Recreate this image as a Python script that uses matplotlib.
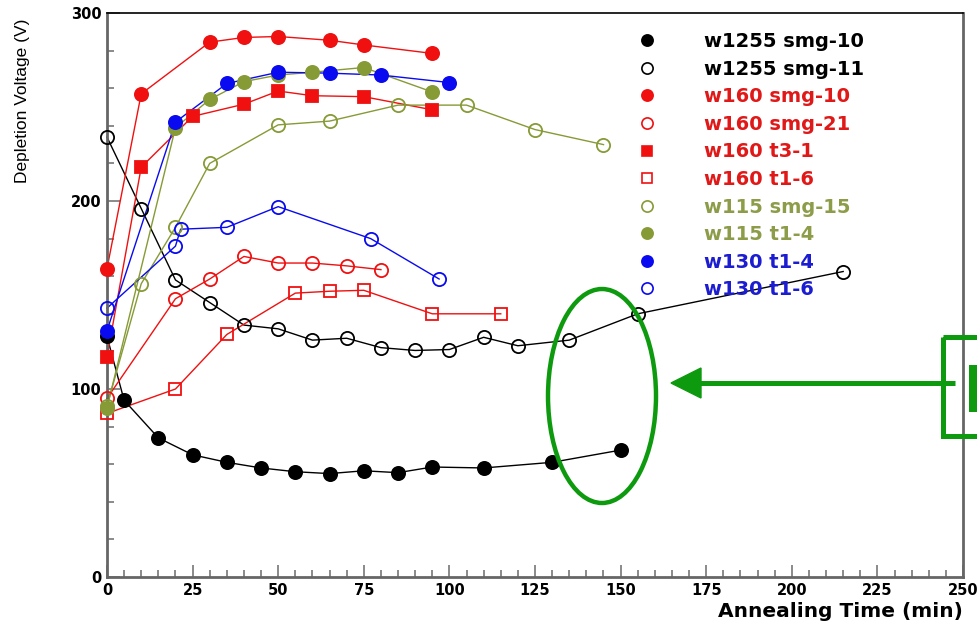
import matplotlib
matplotlib.use("Agg")
import matplotlib.pyplot as plt
from matplotlib.patches import Ellipse, Rectangle, Polygon
from matplotlib.ticker import MultipleLocator

# annealing time (min) and depletion voltage (V) for each sample
t_w1255_smg10 = [0, 5, 15, 25, 35, 45, 55, 65, 75, 85, 95, 110, 130, 150]
v_w1255_smg10 = [128, 94, 74, 65, 61, 58, 56, 55, 56.5, 55.5, 58.5, 58, 61, 67.5]

t_w1255_smg11 = [0, 10, 20, 30, 40, 50, 60, 70, 80, 90, 100, 110, 120, 135, 155, 215]
v_w1255_smg11 = [234, 196, 158, 146, 134, 132, 126, 127, 122, 120.5, 121, 127.5, 123, 126, 140, 162.5]

t_w160_smg10 = [0, 10, 30, 40, 50, 65, 75, 95]
v_w160_smg10 = [164, 257, 284.5, 287, 287.5, 285.5, 283, 278.5]

t_w160_smg21 = [0, 20, 30, 40, 50, 60, 70, 80]
v_w160_smg21 = [95, 148, 158.5, 170.5, 167, 167, 165.5, 163.5]

t_w160_t31 = [0, 10, 25, 40, 50, 60, 75, 95]
v_w160_t31 = [117, 218, 245, 251.5, 258.5, 256, 255.5, 248.5]

t_w160_t16 = [0, 20, 35, 55, 65, 75, 95, 115]
v_w160_t16 = [87, 100, 129, 151, 152, 152.5, 140, 140]

t_w115_smg15 = [0, 10, 20, 30, 50, 65, 85, 105, 125, 145]
v_w115_smg15 = [91, 156, 186, 220, 240.5, 242.5, 251, 251, 238, 230]

t_w115_t14 = [0, 20, 30, 40, 50, 60, 75, 95]
v_w115_t14 = [90, 239, 254, 263.5, 267, 268.5, 271, 258]

t_w130_t14 = [0, 20, 35, 50, 65, 80, 100]
v_w130_t14 = [131, 242, 262.5, 268.5, 268, 267, 263]

t_w130_t16 = [0, 20, 21.5, 35, 50, 77, 97]
v_w130_t16 = [143, 176, 185, 186, 197, 180, 158.5]

labels = ["w1255 smg-10", "w1255 smg-11", "w160 smg-10", "w160 smg-21", "w160 t3-1",
          "w160 t1-6", "w115 smg-15", "w115 t1-4", "w130 t1-4", "w130 t1-6"]

red = "#f01010"
blue = "#0a0af0"
olive = "#869a36"
label_colors = ["black", "black", "#e01818", "#e01818", "#e01818", "#e01818",
                "#8c9c48", "#8c9c48", "#1c1cd0", "#1c1cd0"]

fig = plt.figure(figsize=(9.77, 6.25), dpi=100)
ax = fig.add_axes([0.1095, 0.0768, 0.8762, 0.9024])

ms = 9.5
lw = 1.0
series = [
    (t_w1255_smg10, v_w1255_smg10, "black", "o", True),
    (t_w1255_smg11, v_w1255_smg11, "black", "o", False),
    (t_w160_smg10, v_w160_smg10, red, "o", True),
    (t_w160_smg21, v_w160_smg21, red, "o", False),
    (t_w160_t31, v_w160_t31, red, "s", True),
    (t_w160_t16, v_w160_t16, red, "s", False),
    (t_w115_smg15, v_w115_smg15, olive, "o", False),
    (t_w115_t14, v_w115_t14, olive, "o", True),
    (t_w130_t14, v_w130_t14, blue, "o", True),
    (t_w130_t16, v_w130_t16, blue, "o", False),
]
handles = []
for (t, v, c, m, filled), lab in zip(series, labels):
    size = ms - 1 if m == "s" else ms
    ax.plot(t, v, color=c, lw=lw, zorder=2, clip_on=False)
    ax.plot(t, v, ls="none", marker=m, ms=size, mec=c,
            mfc=c if filled else "none", mew=1.3, zorder=3, clip_on=False)
    h, = ax.plot([], [], ls="none", marker=m, ms=size * 0.85, mec=c,
                 mfc=c if filled else "none", mew=1.2)
    handles.append(h)

ax.set_xlim(0, 250)
ax.set_ylim(0, 300)
ax.xaxis.set_major_locator(MultipleLocator(25))
ax.xaxis.set_minor_locator(MultipleLocator(5))
ax.yaxis.set_major_locator(MultipleLocator(100))
ax.yaxis.set_minor_locator(MultipleLocator(20))
ax.tick_params(which="both", direction="in", top=False, right=False,
               color="#777777", width=1.2)
ax.tick_params(which="major", length=9, labelsize=10.5, pad=4)
ax.tick_params(which="minor", length=5)
for lbl in ax.get_xticklabels() + ax.get_yticklabels():
    lbl.set_fontweight("bold")

for side in ["left", "bottom", "right"]:
    ax.spines[side].set_color("#666666")
    ax.spines[side].set_linewidth(2)
ax.spines["top"].set_color("black")
ax.spines["top"].set_linewidth(1.2)

ax.set_xlabel("Annealing Time (min)", fontsize=14.5, fontweight="bold", labelpad=6)
ax.xaxis.set_label_coords(1.0, -0.045)
ax.xaxis.label.set_horizontalalignment("right")
ax.set_ylabel("Depletion Voltage (V)", fontsize=12.5, family="Liberation Sans")
ax.yaxis.set_label_coords(-0.09, 0.845)

leg = ax.legend(handles, labels, loc="upper left", bbox_to_anchor=(0.62, 0.966),
                frameon=False, borderpad=0, borderaxespad=0, handlelength=1,
                handletextpad=2.4, labelspacing=0.44, prop={"size": 14, "weight": "bold"})
for txt, c in zip(leg.get_texts(), label_colors):
    txt.set_color(c)

# green annotation drawn over the figure in pixel coordinates
ov = fig.add_axes([0, 0, 1, 1])
ov.set_xlim(0, 977)
ov.set_ylim(625, 0)
ov.axis("off")
ov.patch.set_alpha(0)
green = "#0e9a0e"
ov.add_patch(Ellipse((602, 396), 108, 214, fill=False, ec=green, lw=3.2))
ov.add_patch(Polygon([[671, 383], [701, 368], [701, 398]], closed=True, fc=green, ec=green))
ov.plot([700, 955], [383, 383], color=green, lw=3.6, solid_capstyle="butt")
ov.add_patch(Rectangle((943, 337), 60, 99, fill=False, ec=green, lw=3.6))
ov.add_patch(Rectangle((969, 365), 12, 47, fc=green, ec="none"))

fig.savefig("out.png", dpi=100)
